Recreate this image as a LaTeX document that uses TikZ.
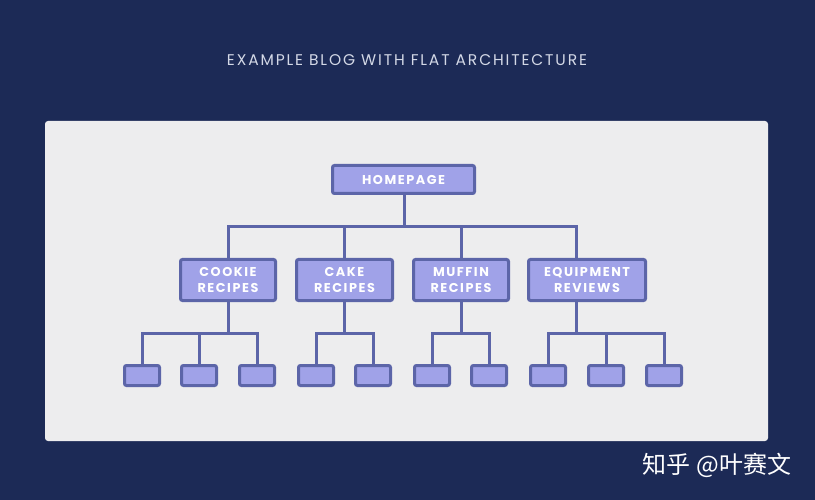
\documentclass[tikz,border=0pt]{standalone}
\usepackage{fontspec}
\usepackage{tikz}
\setmainfont{Poppins}
\newfontfamily\boxfont[LetterSpace=12]{Poppins}
\newfontfamily\titlefont[LetterSpace=12]{Poppins}
\newfontfamily\cjk{Noto Sans CJK SC}
\definecolor{navy}{HTML}{1C2A56}
\definecolor{panel}{HTML}{EDEDEE}
\definecolor{boxfill}{HTML}{A0A2E8}
\definecolor{boxline}{HTML}{5C65A8}
\definecolor{titlegray}{HTML}{D3D8E6}

\begin{document}
\begin{tikzpicture}[x=1pt, y=-1pt,
	link/.style={draw=boxline, line width=3pt},
	page/.style={draw=boxline, fill=boxfill, line width=3pt, rounded corners=2pt,
		text=white, align=center, inner sep=0pt,
		font={\boxfont\bfseries\fontsize{12.8}{16}\selectfont}},
	leaf/.style={page, minimum width=35pt, minimum height=20pt},]

    \fill[navy] (0,0) rectangle (815,500);
    \fill[panel, rounded corners=3pt] (45,121) rectangle (768,441);
    \node[text=titlegray, font={\titlefont\fontsize{15.5}{17}\selectfont}] (title) at (407,60) {EXAMPLE BLOG WITH FLAT ARCHITECTURE};

    \coordinate (hub) at (404,227);
    \coordinate (cookie-j) at (228,333);
    \coordinate (cake-j) at (344,333);
    \coordinate (muffin-j) at (461,333);
    \coordinate (equip-j) at (576,333);

    \draw[link] (404,195) -- (hub);
    \foreach \p in {cookie,cake,muffin,equip}
	    \draw[link] (\p-j |- 0,280) |- (hub);

    \foreach \p/\list in {cookie/{142,199,257}, cake/{316,373}, muffin/{432,489}, equip/{548,606,664}}{
	    \draw[link] (\p-j |- 0,280) -- (\p-j);
	    \foreach \x in \list {
		    \node[leaf] (\p-\x) at (\x,375.5) {};
		    \draw[link] (\p-\x.north) |- (\p-j);
	    }
    }

    \node[page, minimum width=142pt, minimum height=28pt] (home) at (403.5,179.5) {HOMEPAGE};
    \node[page, minimum width=95pt, minimum height=41pt] (cookie) at (228,280) {COOKIE\\RECIPES};
    \node[page, minimum width=96pt, minimum height=41pt] (cake) at (344.5,280) {CAKE\\RECIPES};
    \node[page, minimum width=95pt, minimum height=41pt] (muffin) at (461,280) {MUFFIN\\RECIPES};
    \node[page, minimum width=117pt, minimum height=41pt] (equip) at (587,280) {EQUIPMENT\\REVIEWS};

    \node[text=white, font={\cjk\fontsize{24}{26}\selectfont}] (mark) at (717,465) {知乎 @叶赛文};
    \end{tikzpicture}
\end{document}
